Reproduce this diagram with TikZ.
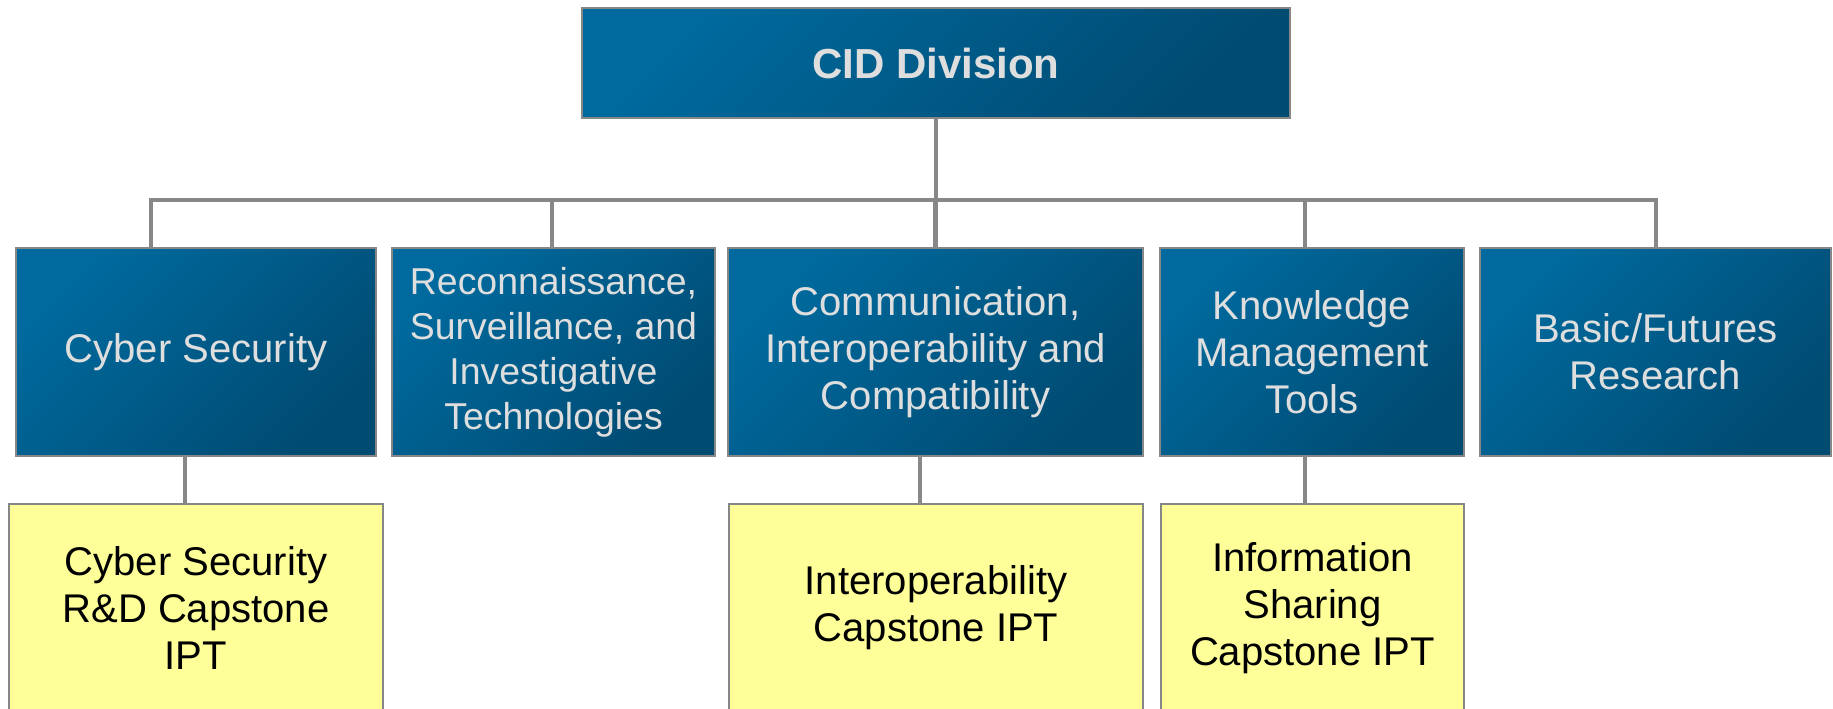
\documentclass[tikz,border=0pt]{standalone}
\usepackage{fontspec}
\setmainfont{Liberation Sans}
\usepackage{tikz}
\usetikzlibrary{positioning, calc}
\definecolor{cidLight}{HTML}{006A9E}
\definecolor{cidDark}{HTML}{004B72}
\definecolor{cidText}{HTML}{DEDEDE}
\definecolor{iptYellow}{HTML}{FFFF99}
\colorlet{lineGray}{black!47}
\tikzstyle{box}=[draw=lineGray, line width=1.1pt, align=center, inner sep=0pt,
  minimum height=4.16cm, font=\fontsize{22.8}{26.6}\selectfont]
\tikzstyle{unit}=[box, top color=cidLight, bottom color=cidDark, shading angle=45,
  text=cidText]
\tikzstyle{capstone}=[box, fill=iptYellow, text=black]
\tikzstyle{link}=[draw=lineGray, line width=2.3pt]

\begin{document}
\begin{tikzpicture}[x=0.02cm, y=-0.02cm]
  \useasboundingbox (0,0) rectangle (1833,709);
  \clip (0,0) rectangle (1833,709);

  % division head
  \node[unit, minimum width=14.16cm, minimum height=2.2cm,
    font=\fontsize{23.9}{28}\selectfont\bfseries] (cid) at (936,63) {CID Division};

  % thrust areas
  \node[unit, minimum width=7.2cm] (cyber) at (196,352) {Cyber Security};
  \node[unit, minimum width=6.46cm, font=\fontsize{21.3}{25.6}\selectfont]
    (recon) at (553.5,352)
    {Reconnaissance,\\Surveillance, and\\Investigative\\Technologies};
  \node[unit, minimum width=8.3cm] (comm) at (935.5,352)
    {Communication,\\Interoperability and\\Compatibility};
  \node[unit, minimum width=6.08cm] (know) at (1312,352)
    {Knowledge\\Management\\Tools};
  \node[unit, minimum width=7.02cm] (basic) at (1655.5,352)
    {Basic/Futures\\Research};

  % capstone IPTs
  \node[capstone, minimum width=7.48cm] (cyberIpt) at (196,608)
    {Cyber Security\\R\&D Capstone\\IPT};
  \node[capstone, minimum width=8.28cm] (commIpt) at (936,608)
    {Interoperability\\Capstone IPT};
  \node[capstone, minimum width=6.06cm] (knowIpt) at (1312.5,608)
    {Information\\Sharing\\Capstone IPT};

  % bus
  \coordinate (busL) at (151,200);
  \coordinate (busR) at (1656,200);
  \coordinate (drop2) at (552,200);
  \coordinate (drop4) at (1305,200);
  \draw[link] (cid.south) -- (cid.south |- busL);
  \draw[link] (cyber.north -| busL) -- (busL) -- (busR) -- (basic.north -| busR);
  \draw[link] (drop2) -- (drop2 |- recon.north);
  \draw[link] (comm.north |- busL) -- (comm.north);
  \draw[link] (drop4) -- (drop4 |- know.north);

  % stubs to capstones
  \coordinate (stub1) at (185,456);
  \coordinate (stub3) at (920,456);
  \coordinate (stub4) at (1305,456);
  \draw[link] (stub1) -- (stub1 |- cyberIpt.north);
  \draw[link] (stub3) -- (stub3 |- commIpt.north);
  \draw[link] (stub4) -- (stub4 |- knowIpt.north);
\end{tikzpicture}
\end{document}
